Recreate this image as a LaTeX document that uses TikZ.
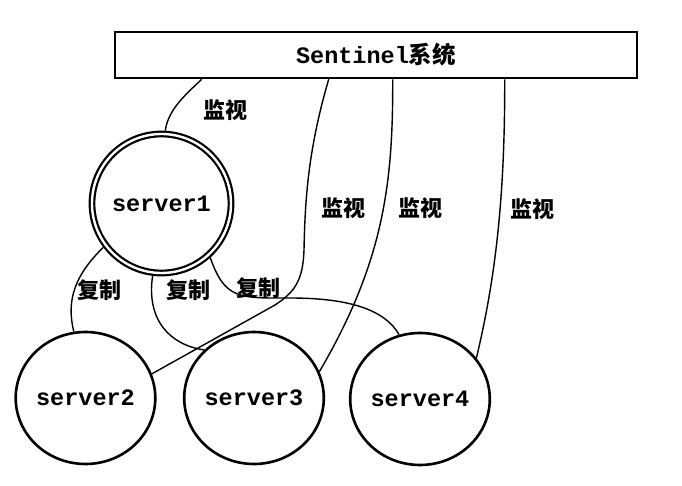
\documentclass[tikz,border=0pt]{standalone}
\usepackage{fontspec}
\setmonofont{Liberation Mono}
\newfontfamily\cjk{Noto Sans CJK SC}
\usetikzlibrary{shapes.geometric}
\tikzset{
  srv/.style={draw, ellipse, line width=2.6pt, minimum width=136pt, minimum height=132pt, inner sep=0pt, font=\ttfamily\bfseries\fontsize{23.5}{26}\selectfont},
  mainsrv/.style={draw, circle, double, line width=2.2pt, double distance=2.4pt, minimum size=139pt, inner sep=0pt, outer sep=3.4pt, font=\ttfamily\bfseries\fontsize{23.5}{26}\selectfont},
  sysbox/.style={draw, rectangle, line width=2.6pt, minimum width=522pt, minimum height=46pt, inner sep=0pt, font=\fontsize{23.5}{26}\selectfont},
  lab/.style={inner sep=0pt, font=\cjk\bfseries\fontsize{22}{24}\selectfont},
  conn/.style={line width=1.4pt}
}
\begin{document}
\begin{tikzpicture}[x=1pt,y=-1pt]
\useasboundingbox (0,0) rectangle (682,486);
\node[sysbox] (box) at (376,55) {{\ttfamily\bfseries Sentinel}{\cjk\bfseries 系统}};
\node[mainsrv] (s1) at (161.5,203.5) {server1};
\node[srv] (s2) at (85.5,398) {server2};
\node[srv] (s3) at (254,398) {server3};
\node[srv] (s4) at (420,399) {server4};
% monitor connectors
\draw[conn] ([xshift=88pt]box.south west) .. controls (185,95) and (168,110) .. (s1.87);
\draw[conn] ([xshift=215pt]box.south west) .. controls (308,150) and (305,200) .. (304,250) .. controls (303,280) and (295,292) .. (275,305) -- (s2.20);
\draw[conn] ([xshift=279pt]box.south west) .. controls (393,180) and (385,260) .. (s3.22);
\draw[conn] ([xshift=391pt]box.south west) .. controls (505,200) and (495,280) .. (s4.36);
% replication connectors
\draw[conn] (s1.217) .. controls (75,275) and (66,300) .. (s2.100);
\draw[conn] (s1.263) .. controls (146,320) and (170,345) .. (s3.136);
\draw[conn] (s1.312) .. controls (225,300) and (240,298) .. (290,298) .. controls (350,298) and (385,310) .. (s4.108);
% labels
\node[lab] (m1) at (225,110) {监视};
\node[lab] (m2) at (343,208) {监视};
\node[lab] (m3) at (420,208) {监视};
\node[lab] (m4) at (532,209) {监视};
\node[lab] (c1) at (99,290) {复制};
\node[lab] (c2) at (188,290) {复制};
\node[lab] (c3) at (258,288) {复制};
\end{tikzpicture}
\end{document}
